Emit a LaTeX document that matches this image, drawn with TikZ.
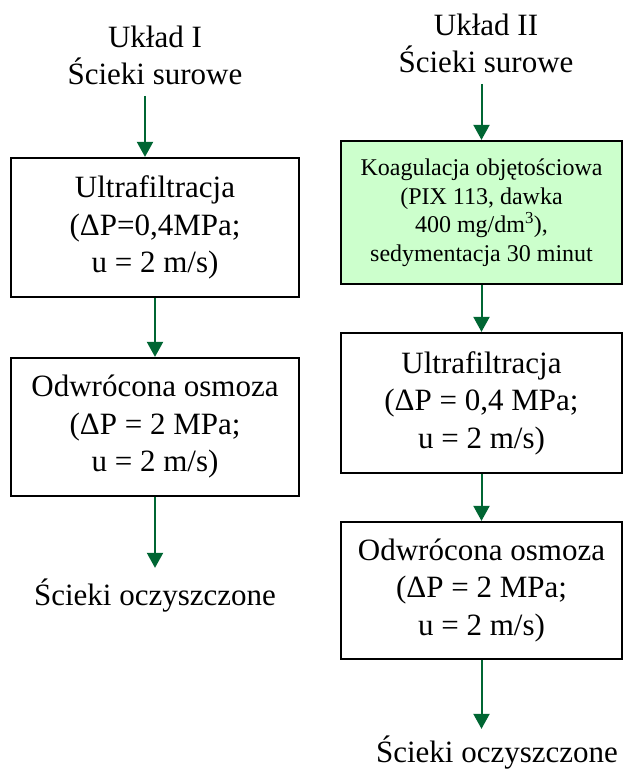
\documentclass[tikz,border=0pt]{standalone}
\usepackage{fontspec}
\setmainfont{Liberation Serif}
\usetikzlibrary{arrows.meta}
\definecolor{arrowgreen}{RGB}{0,102,51}
\definecolor{boxgreen}{RGB}{204,255,204}
\begin{document}
\begin{tikzpicture}[x=1pt,y=-1pt]
\tikzstyle{title}=[align=center, font=\fontsize{31}{37}\selectfont]
\tikzstyle{box}=[draw, line width=2.2pt, rectangle, align=center, font=\fontsize{31}{37.5}\selectfont]
\tikzstyle{coagbox}=[box, fill=boxgreen, font=\fontsize{24}{28.5}\selectfont]
\tikzstyle{line}=[draw, arrowgreen, line width=2pt, -{Triangle[width=16pt,length=15pt]}]

\useasboundingbox (0,0) rectangle (625,772);

% Uklad I
\node[title] (srcA) at (155,55) {Układ I\\Ścieki surowe};
\node[box, minimum width=288, minimum height=139] (ufA) at (155,227.5) {Ultrafiltracja\\(ΔP=0,4MPa;\\u = 2 m/s)};
\node[box, minimum width=288, minimum height=138] (roA) at (155,427) {Odwrócona osmoza\\(ΔP = 2 MPa;\\u = 2 m/s)};
\node[title, anchor=base] (outA) at (155,605) {Ścieki oczyszczone};

% Uklad II
\node[title] (srcB) at (486,43) {Układ II\\Ścieki surowe};
\node[coagbox, minimum width=281, minimum height=143] (koag) at (481.5,212.5) {Koagulacja objętościowa\\(PIX 113, dawka\\400 mg/dm\textsuperscript{3}),\\sedymentacja 30 minut};
\node[box, minimum width=281, minimum height=140] (ufB) at (481.5,403) {Ultrafiltracja\\(ΔP = 0,4 MPa;\\u = 2 m/s)};
\node[box, minimum width=281, minimum height=137] (roB) at (481.5,590.5) {Odwrócona osmoza\\(ΔP = 2 MPa;\\u = 2 m/s)};
\node[title, anchor=base] (outB) at (497,762) {Ścieki oczyszczone};

% Flow
\draw[line, shorten <=8pt] ([xshift=-10pt]srcA.south) -- ([xshift=-10pt]srcA.south |- ufA.north);
\draw[line] (ufA) -- (roA);
\draw[line, shorten >=7pt] (roA.south) -- (roA.south |- outA.north);
\draw[line, shorten <=8pt] (koag.north |- srcB.south) -- (koag.north);
\draw[line] (koag) -- (ufB);
\draw[line] (ufB) -- (roB);
\draw[line, shorten >=3pt] (roB.south) -- (roB.south |- outB.north);
\end{tikzpicture}
\end{document}
